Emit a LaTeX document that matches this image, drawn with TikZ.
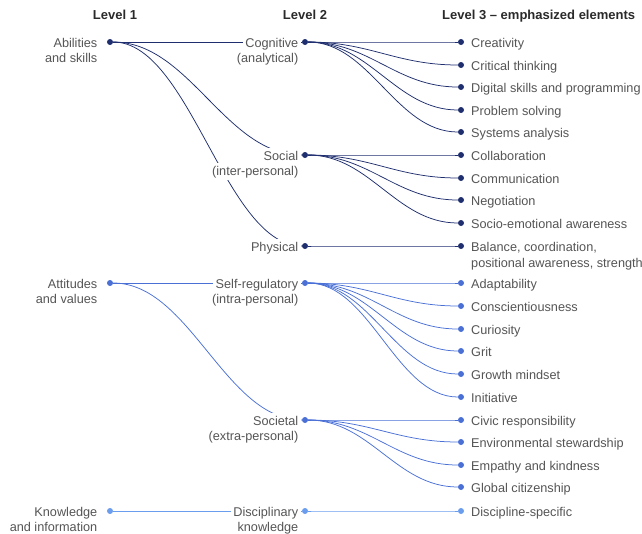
\documentclass[tikz,border=0pt]{standalone}
\usepackage{fontspec}
\setmainfont{Liberation Sans}
\usetikzlibrary{backgrounds}
\definecolor{navy}{HTML}{1F2E6E}
\definecolor{midblue}{HTML}{4A70D6}
\definecolor{lightblue}{HTML}{6A9DED}
\definecolor{labgray}{HTML}{555555}
\definecolor{headgray}{HTML}{2A2A2A}
\begin{document}
\begin{tikzpicture}[x=1pt,y=-1pt,
  lab/.style={font=\fontsize{12.7}{15}\selectfont, text=labgray, fill=white, inner sep=2.5pt},
  labL/.style={lab, anchor=base east},
  labR/.style={lab, anchor=base west},
  head/.style={font=\fontsize{13}{15}\selectfont\bfseries, text=headgray, inner sep=0pt},
  dotnode/.style={circle, fill=#1, inner sep=0pt, minimum size=6pt},
  conn/.style={draw=#1, line width=0.75pt},
]
\useasboundingbox (0,0) rectangle (642,533);

% headers
\node[head, anchor=base] (h1) at (115,19) {Level 1};
\node[head, anchor=base] (h2) at (305,19) {Level 2};
\node[head, anchor=base west] (h3) at (442,19) {Level 3 -- emphasized elements};

% level 1
\node[dotnode=navy] (A) at (110,42) {};
\node[dotnode=midblue] (B) at (110,283) {};
\node[dotnode=lightblue] (C) at (110,511) {};
\node[labL] (A1) at (100,47) {Abilities};
\node[labL] (A2) at (100,62) {and skills};
\node[labL] (B1) at (100,288) {Attitudes};
\node[labL] (B2) at (100,303) {and values};
\node[labL] (C1) at (100,516) {Knowledge};
\node[labL] (C2) at (100,531) {and information};

% level 2
\node[dotnode=navy] (cog) at (305,42) {};
\node[dotnode=navy] (soc) at (305,155) {};
\node[dotnode=navy] (phy) at (305,246) {};
\node[dotnode=midblue] (self) at (305,283) {};
\node[dotnode=midblue] (socl) at (305,420) {};
\node[dotnode=lightblue] (disc) at (305,511) {};
\node[labL] (cog1) at (301,47) {Cognitive};
\node[labL] (cog2) at (301,62) {(analytical)};
\node[labL] (soc1) at (301,160) {Social};
\node[labL] (soc2) at (301,175) {(inter-personal)};
\node[labL] (phy1) at (301,251) {Physical};
\node[labL] (self1) at (301,288) {Self-regulatory};
\node[labL] (self2) at (301,303) {(intra-personal)};
\node[labL] (socl1) at (301,425) {Societal};
\node[labL] (socl2) at (301,440) {(extra-personal)};
\node[labL] (disc1) at (301,516) {Disciplinary};
\node[labL] (disc2) at (301,531) {knowledge};

% level 3
\foreach \n/\y/\c/\t in {
  t1/42/navy/Creativity,
  t2/65/navy/Critical thinking,
  t3/87/navy/Digital skills and programming,
  t4/110/navy/Problem solving,
  t5/132/navy/Systems analysis,
  t6/155/navy/Collaboration,
  t7/178/navy/Communication,
  t8/200/navy/Negotiation,
  t9/223/navy/Socio-emotional awareness,
  t11/283/midblue/Adaptability,
  t12/306/midblue/Conscientiousness,
  t13/329/midblue/Curiosity,
  t14/351/midblue/Grit,
  t15/374/midblue/Growth mindset,
  t16/397/midblue/Initiative,
  t17/420/midblue/Civic responsibility,
  t18/442/midblue/Environmental stewardship,
  t19/465/midblue/Empathy and kindness,
  t20/487/midblue/Global citizenship,
  t21/511/lightblue/Discipline-specific}{
  \node[dotnode=\c] (\n) at (461,\y) {};
  \node[labR] (\n l) at (468.5,\y+5) {\t};
}
\node[dotnode=navy] (t10) at (461,246) {};
\node[labR] (t10l) at (468.5,251) {Balance, coordination,};
\node[labR] (t10m) at (468.5,267) {positional awareness, strength};

\begin{pgfonlayer}{background}
  \draw[conn=navy] (A) -- (cog);
  \draw[conn=navy] (A) .. controls +(80,0) and +(-80,0) .. (soc);
  \draw[conn=navy] (A) .. controls +(80,0) and +(-80,0) .. (phy);
  \draw[conn=midblue] (B) -- (self);
  \draw[conn=midblue] (B) .. controls +(80,0) and +(-80,0) .. (socl);
  \draw[conn=lightblue] (C) -- (disc);
  \foreach \s/\d/\c in {cog/t1/navy, cog/t2/navy, cog/t3/navy, cog/t4/navy, cog/t5/navy,
    soc/t6/navy, soc/t7/navy, soc/t8/navy, soc/t9/navy, phy/t10/navy,
    self/t11/midblue, self/t12/midblue, self/t13/midblue, self/t14/midblue, self/t15/midblue, self/t16/midblue,
    socl/t17/midblue, socl/t18/midblue, socl/t19/midblue, socl/t20/midblue, disc/t21/lightblue}{
    \draw[conn=\c] (\s) .. controls +(65,0) and +(-65,0) .. (\d);
  }
\end{pgfonlayer}
\end{tikzpicture}
\end{document}
